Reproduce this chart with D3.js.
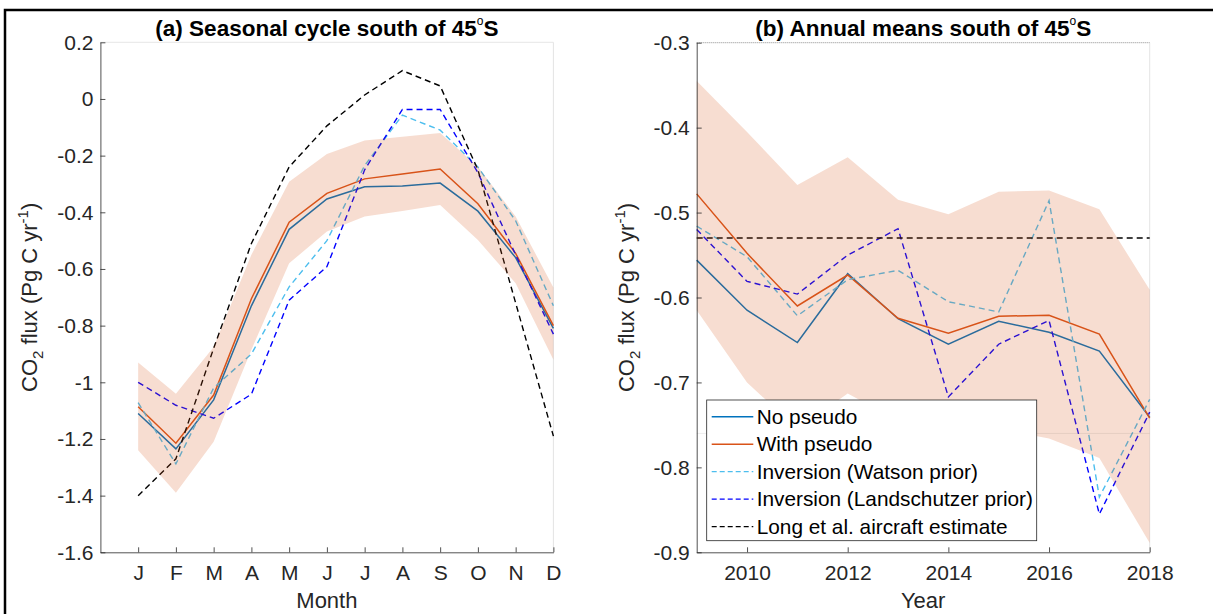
<!DOCTYPE html>
<html>
<head>
<meta charset="utf-8">
<script src="https://cdn.jsdelivr.net/npm/d3@7"></script>
<style>
  body { margin: 0; background: #fff; }
  svg { display: block; font-family: "Liberation Sans", Arial, sans-serif; }
</style>
</head>
<body>
<script>
// ---- data ----
var months = ["J", "F", "M", "A", "M", "J", "J", "A", "S", "O", "N", "D"];
var monthIdx = [1, 2, 3, 4, 5, 6, 7, 8, 9, 10, 11, 12];

var noPseudoA   = [-1.11, -1.235, -1.062, -0.73, -0.46, -0.353, -0.31, -0.307, -0.297, -0.396, -0.56, -0.81];
var withPseudoA = [-1.086, -1.215, -1.045, -0.705, -0.435, -0.333, -0.282, -0.265, -0.247, -0.37, -0.545, -0.80];
var bandUpperA  = [-0.93, -1.04, -0.875, -0.55, -0.292, -0.194, -0.147, -0.133, -0.12, -0.239, -0.415, -0.665];
var bandLowerA  = [-1.24, -1.39, -1.21, -0.885, -0.58, -0.468, -0.415, -0.395, -0.374, -0.498, -0.65, -0.92];
var watsonA     = [-1.072, -1.288, -1.02, -0.90, -0.663, -0.50, -0.235, -0.057, -0.11, -0.24, -0.43, -0.73];
var landA       = [-1.0, -1.081, -1.127, -1.042, -0.71, -0.592, -0.25, -0.037, -0.037, -0.26, -0.55, -0.83];
var longA       = [-1.40, -1.27, -0.88, -0.51, -0.24, -0.095, 0.014, 0.10, 0.046, -0.25, -0.72, -1.19];

var years = [2009, 2010, 2011, 2012, 2013, 2014, 2015, 2016, 2017, 2018];
var noPseudoB   = [-0.556, -0.615, -0.653, -0.572, -0.625, -0.655, -0.628, -0.641, -0.663, -0.741];
var withPseudoB = [-0.478, -0.548, -0.61, -0.5735, -0.6245, -0.642, -0.622, -0.621, -0.643, -0.742];
var watsonB     = [-0.516, -0.552, -0.6215, -0.579, -0.568, -0.605, -0.617, -0.486, -0.835, -0.72];
var landB       = [-0.52, -0.581, -0.596, -0.55, -0.519, -0.717, -0.655, -0.627, -0.855, -0.735];
var bandUpperB  = [-0.345, -0.405, -0.4675, -0.435, -0.485, -0.502, -0.4755, -0.474, -0.496, -0.591];
var bandLowerB  = [-0.615, -0.70, -0.755, -0.713, -0.745, -0.76, -0.755, -0.766, -0.789, -0.889];
var longB = -0.53;       // Long et al. aircraft estimate (constant)
var faintLineB = -0.76;  // faint horizontal artefact line in panel b

var yTicksA = [-1.6, -1.4, -1.2, -1, -0.8, -0.6, -0.4, -0.2, 0, 0.2];
var yTicksB = [-0.9, -0.8, -0.7, -0.6, -0.5, -0.4, -0.3];
var xTicksB = [2010, 2012, 2014, 2016, 2018];

var legendNames = ["No pseudo", "With pseudo", "Inversion (Watson prior)",
  "Inversion (Landschutzer prior)", "Long et al. aircraft estimate"];

// ---- styles ----
var C_BLUE = "#0072BD", C_ORANGE = "#D95319", C_WATSON = "#4DBEEE",
  C_LAND = "#0000FF", C_LONG = "#000000", C_AX = "#262626";
var FS = 21;
var series = [
  { color: C_BLUE, dash: null },
  { color: C_ORANGE, dash: null },
  { color: C_WATSON, dash: "6,4" },
  { color: C_LAND, dash: "6,4" },
  { color: C_LONG, dash: "6,4" }
];

var W = 1213, H = 614;
var svg = d3.select("body").append("svg").attr("width", W).attr("height", H);

var fmt = function (d) { return String(+d.toFixed(1)); };

function styleAxis(g) {
  g.attr("font-size", FS).attr("font-family", '"Liberation Sans", Arial, sans-serif');
  g.selectAll("path.domain").attr("stroke", C_AX).attr("stroke-width", 0.8);
  g.selectAll(".tick line").attr("stroke", C_AX).attr("stroke-width", 0.8);
  g.selectAll(".tick text").attr("fill", C_AX);
}

function drawPanel(opt) {
  var x = opt.x, y = opt.y;
  var g = svg.append("g");
  var r = x.range(), ry = y.range();

  // faint box edges (top / right)
  g.append("line").attr("x1", r[0]).attr("x2", r[1]).attr("y1", ry[1]).attr("y2", ry[1])
    .attr("stroke", opt.topColor).attr("stroke-width", 1)
    .attr("stroke-dasharray", opt.topDash);
  g.append("line").attr("x1", r[1]).attr("x2", r[1]).attr("y1", ry[0]).attr("y2", ry[1])
    .attr("stroke", "#e4e4e4").attr("stroke-width", 1);

  var line = d3.line().x(function (d) { return x(d[0]); }).y(function (d) { return y(d[1]); });
  opt.lines.forEach(function (s) {
    g.append("path").attr("d", line(s.pts)).attr("fill", "none")
      .attr("stroke", s.color).attr("stroke-width", s.dash ? 1.4 : 1.5)
      .attr("stroke-dasharray", s.dash);
  });

  // uncertainty band drawn over the lines (semi-transparent)
  var area = d3.area().x(function (d) { return x(d.x); })
    .y0(function (d) { return y(d.lo); }).y1(function (d) { return y(d.hi); });
  g.append("path").attr("d", area(opt.band)).attr("fill", C_ORANGE).attr("fill-opacity", 0.2);

  var ax = g.append("g").attr("transform", "translate(" + r[0] + ",0)")
    .call(d3.axisLeft(y).tickValues(opt.yTicks).tickFormat(fmt).tickSizeInner(-5).tickSizeOuter(0).tickPadding(7));
  styleAxis(ax);
  var bx = g.append("g").attr("transform", "translate(0," + ry[0] + ")")
    .call(d3.axisBottom(x).tickValues(opt.xTicks).tickFormat(opt.xFmt).tickSizeInner(-5).tickSizeOuter(0).tickPadding(13));
  styleAxis(bx);

  var cx = (r[0] + r[1]) / 2;
  var t = g.append("text").attr("x", cx).attr("y", 36).attr("text-anchor", "middle")
    .attr("font-size", 22.5).attr("font-weight", "bold").attr("fill", "#000");
  t.append("tspan").text(opt.title + " 45");
  t.append("tspan").text("o").attr("font-size", 12).attr("font-weight", "normal").attr("dy", -11);
  t.append("tspan").text("S").attr("dy", 11);

  g.append("text").attr("x", cx).attr("y", 608).attr("text-anchor", "middle")
    .attr("font-size", 22).attr("fill", C_AX).text(opt.xLabel);

  var yl = g.append("text").attr("transform", "translate(" + opt.yLabelX + "," + ((ry[0] + ry[1]) / 2) + ") rotate(-90)")
    .attr("text-anchor", "middle").attr("font-size", 22).attr("fill", C_AX);
  yl.append("tspan").text("CO");
  yl.append("tspan").text("2").attr("font-size", 15).attr("dy", 6);
  yl.append("tspan").text(" flux (Pg C yr").attr("dy", -6);
  yl.append("tspan").text("-1").attr("font-size", 15).attr("dy", -9);
  yl.append("tspan").text(")").attr("dy", 9);
  return g;
}

function zip(xs, ys) { return xs.map(function (v, i) { return [v, ys[i]]; }); }

// ---- panel (a) ----
var xA = d3.scaleLinear().domain([0, 12]).range([100.4, 553.4]);
var yA = d3.scaleLinear().domain([-1.6, 0.2]).range([552.3, 42.3]);
drawPanel({
  x: xA, y: yA, yTicks: yTicksA, xTicks: monthIdx,
  xFmt: function (d) { return months[d - 1]; },
  title: "(a) Seasonal cycle south of", xLabel: "Month", yLabelX: 37,
  topColor: "#e6e6e6", topDash: null,
  lines: [
    { color: C_BLUE, pts: zip(monthIdx, noPseudoA) },
    { color: C_ORANGE, pts: zip(monthIdx, withPseudoA) },
    { color: C_WATSON, dash: "6,4", pts: zip(monthIdx, watsonA) },
    { color: C_LAND, dash: "6,4", pts: zip(monthIdx, landA) },
    { color: C_LONG, dash: "6,4", pts: zip(monthIdx, longA) }
  ],
  band: monthIdx.map(function (m, i) { return { x: m, lo: bandLowerA[i], hi: bandUpperA[i] }; })
});

// ---- panel (b) ----
var xB = d3.scaleLinear().domain([2009, 2018]).range([696.7, 1149.7]);
var yB = d3.scaleLinear().domain([-0.9, -0.3]).range([552.3, 42.7]);
var gB = drawPanel({
  x: xB, y: yB, yTicks: yTicksB, xTicks: xTicksB, xFmt: d3.format("d"),
  title: "(b) Annual means south of", xLabel: "Year", yLabelX: 633.5,
  topColor: "#8c8c8c", topDash: "1,1",
  lines: [
    { color: C_BLUE, pts: zip(years, noPseudoB) },
    { color: C_ORANGE, pts: zip(years, withPseudoB) },
    { color: C_WATSON, dash: "6,4", pts: zip(years, watsonB) },
    { color: C_LAND, dash: "6,4", pts: zip(years, landB) },
    { color: C_LONG, dash: "6,4", pts: [[years[0], longB], [years[years.length - 1], longB]] }
  ],
  band: years.map(function (yr, i) { return { x: yr, lo: bandLowerB[i], hi: bandUpperB[i] }; })
});
gB.append("line").attr("x1", xB(2009)).attr("x2", xB(2018))
  .attr("y1", yB(faintLineB)).attr("y2", yB(faintLineB))
  .attr("stroke", "#000").attr("stroke-opacity", 0.07).attr("stroke-width", 1);

// ---- legend ----
var leg = svg.append("g").attr("transform", "translate(706.7,400)");
leg.append("rect").attr("width", 330).attr("height", 140.7)
  .attr("fill", "#fff").attr("stroke", C_AX).attr("stroke-width", 0.8);
legendNames.forEach(function (name, i) {
  var yy = 16.7 + i * 27.5;
  var s = series[i];
  leg.append("line").attr("x1", 5).attr("x2", 46.6).attr("y1", yy).attr("y2", yy)
    .attr("stroke", s.color).attr("stroke-width", s.dash ? 1.2 : 1.5)
    .attr("stroke-dasharray", s.dash ? "5,3" : null);
  leg.append("text").attr("x", 50).attr("y", yy).attr("dy", "0.35em")
    .attr("font-size", 20.8).attr("fill", "#000").text(name);
});

// ---- figure frame ----
svg.append("path").attr("d", "M5," + H + "V10H" + W)
  .attr("fill", "none").attr("stroke", "#000").attr("stroke-width", 2.5);
</script>
</body>
</html>
